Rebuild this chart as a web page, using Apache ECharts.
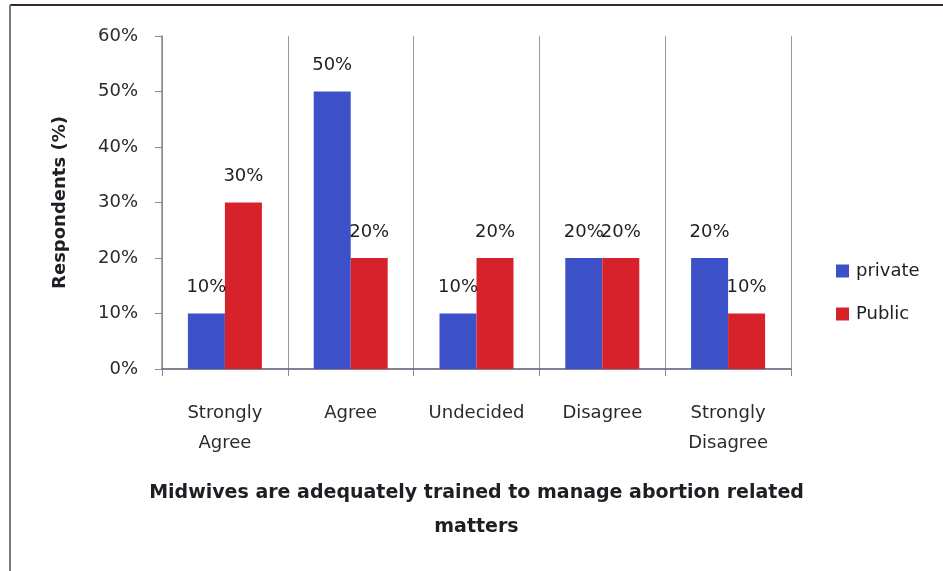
<!DOCTYPE html>
<html>
<head>
<meta charset="utf-8">
<script src="https://cdn.jsdelivr.net/npm/echarts@6/dist/echarts.min.js"></script>
<style>
html,body{margin:0;padding:0;background:#fff;}
#c{width:943px;height:571px;}
</style>
</head>
<body>
<div id="c"></div>
<script>
var categories = ['Strongly\nAgree', 'Agree', 'Undecided', 'Disagree', 'Strongly\nDisagree'];
var privateValues = [10, 50, 10, 20, 20];
var publicValues = [30, 20, 20, 20, 10];
var seriesNames = ['private', 'Public'];
var xTitle = 'Midwives are adequately trained to manage abortion related\nmatters';
var yTitle = 'Respondents (%)';

var FONT = 'DejaVu Sans';
var chart = echarts.init(document.getElementById('c'), null, {renderer: 'canvas'});
var labelStyle = {
  show: true, position: 'top', distance: 17,
  formatter: '{c}%', color: '#1e1e24', fontFamily: FONT, fontSize: 18
};
chart.setOption({
  animation: false,
  backgroundColor: '#fff',
  textStyle: {fontFamily: FONT},
  grid: {left: 162, right: 152, top: 36, bottom: 202},
  legend: {
    orient: 'vertical', left: 831, top: 257, itemWidth: 13, itemHeight: 13, itemGap: 25,
    icon: 'rect',
    textStyle: {fontFamily: FONT, fontSize: 18, color: '#1e1e24', padding: [0, 0, 0, 2]},
    data: seriesNames
  },
  xAxis: {
    type: 'category', data: categories,
    axisLine: {lineStyle: {color: '#5a5a72', width: 1.5}},
    axisTick: {show: true, length: 7, lineStyle: {color: '#888'}},
    splitLine: {show: true, lineStyle: {color: '#9a9a9a', width: 1}},
    axisLabel: {margin: 29, fontFamily: FONT, fontSize: 18, color: '#2a2a30', lineHeight: 30, interval: 0},
    name: xTitle, nameLocation: 'middle', nameGap: 107,
    nameTextStyle: {fontFamily: FONT, fontSize: 19, fontWeight: 'bold', color: '#1e1e24', lineHeight: 34}
  },
  yAxis: {
    type: 'value', min: 0, max: 60, interval: 10,
    axisLine: {show: true, lineStyle: {color: '#888', width: 1.5}},
    axisTick: {show: true, length: 7, lineStyle: {color: '#888'}},
    splitLine: {show: false},
    axisLabel: {formatter: '{value}%', margin: 24, fontFamily: FONT, fontSize: 18, color: '#2a2a30'},
    name: yTitle, nameLocation: 'middle', nameGap: 93,
    nameTextStyle: {fontFamily: FONT, fontSize: 18, fontWeight: 'bold', color: '#1e1e24'}
  },
  series: [
    {name: seriesNames[0], type: 'bar', data: privateValues, barWidth: 37, barGap: '0%',
     itemStyle: {color: '#3c51c8'}, label: labelStyle},
    {name: seriesNames[1], type: 'bar', data: publicValues, barWidth: 37,
     itemStyle: {color: '#d8222b'}, label: labelStyle}
  ],
  graphic: [
    {type: 'line', shape: {x1: 10, y1: 5, x2: 943, y2: 5}, style: {stroke: '#3a2626', lineWidth: 2}},
    {type: 'line', shape: {x1: 10, y1: 5, x2: 10, y2: 571}, style: {stroke: '#7a7a7a', lineWidth: 2}}
  ]
});
</script>
</body>
</html>
